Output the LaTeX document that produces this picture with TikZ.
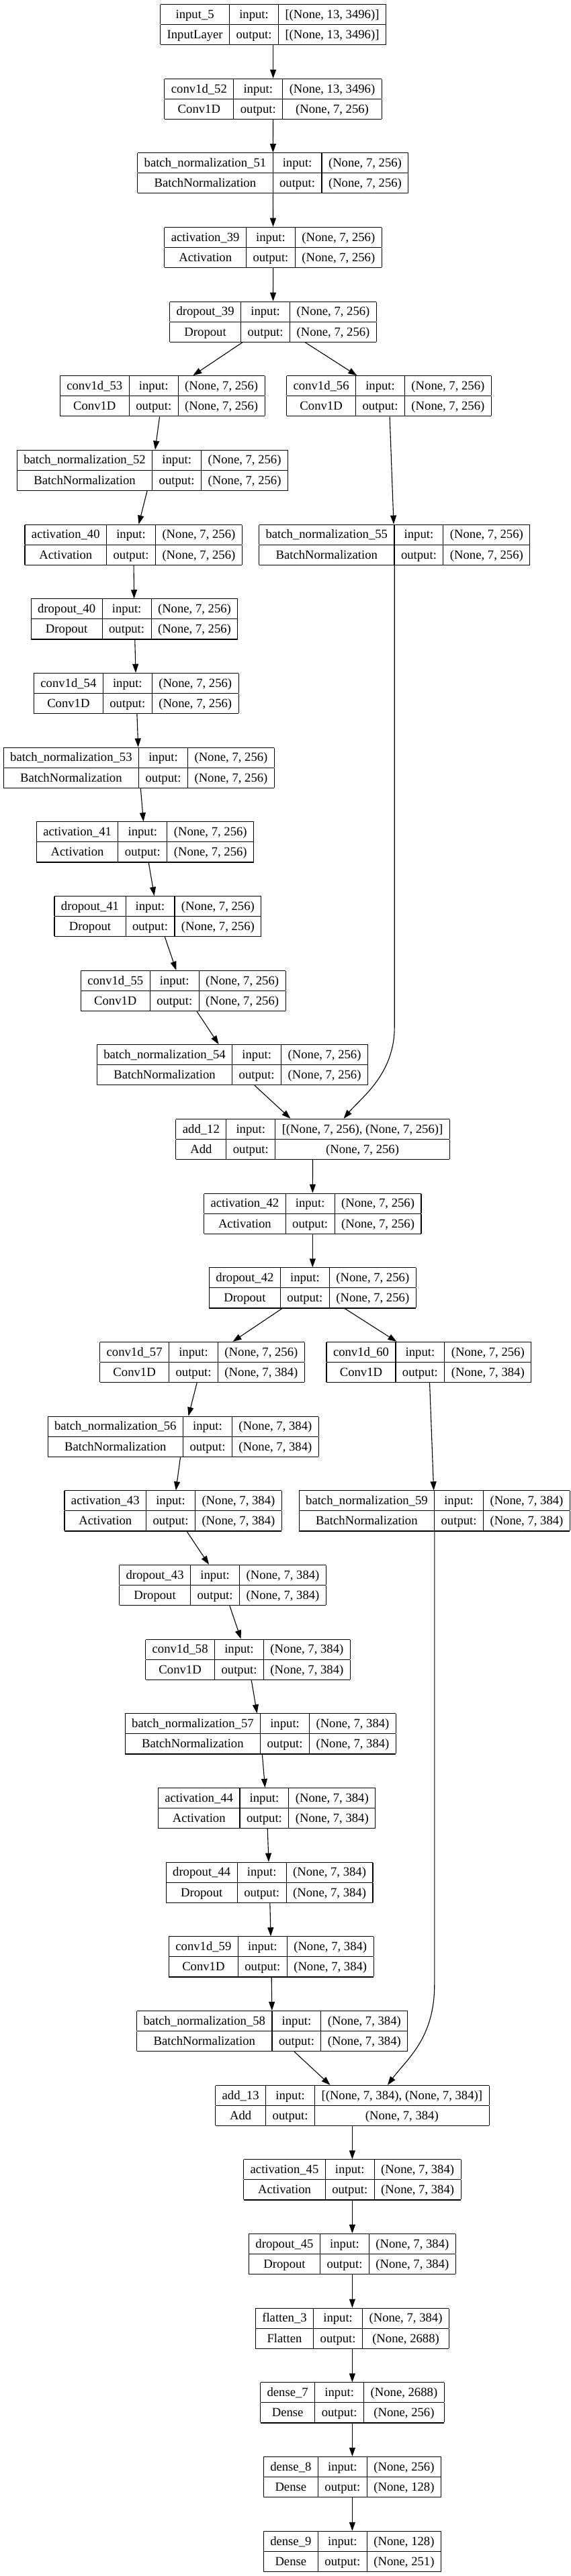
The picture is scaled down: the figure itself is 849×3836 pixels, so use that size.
\documentclass[tikz,border=0pt]{standalone}
\usepackage{fontspec}
\setmainfont{Liberation Serif}
\usetikzlibrary{arrows.meta}
\setlength{\tabcolsep}{10pt}
\setlength{\arrayrulewidth}{1.1pt}
\tikzset{
  % --- keras layer box (name/class | input/output | shapes) -------------
  kbox/.style  ={inner sep=0pt, outer sep=0pt,
                 font=\fontsize{18.67}{29}\selectfont},
  % --- arrows ------------------------------------------------------------
  arrow/.style ={-{Triangle[length=13pt,width=9pt]}, line width=1.1pt},
}
\newcommand{\kerasbox}[4]{%
  \begin{tabular}{|c|c|c|}\hline
    #1 & input: & #3\\\hline
    #2 & output: & #4\\\hline
  \end{tabular}}

\begin{document}
\begin{tikzpicture}[x=1pt, y=-1pt]

  \fill[white] (0,0) rectangle (849,3836);

  % ============================ stem ============================
  \node[kbox] (inp) at (406.6,36.3)
    {\kerasbox{input\_5}{InputLayer}{[(None, 13, 3496)]}{[(None, 13, 3496)]}};
  \node[kbox] (c52) at (406.6,147.3)
    {\kerasbox{conv1d\_52}{Conv1D}{(None, 13, 3496)}{(None, 7, 256)}};
  \node[kbox] (b51) at (406.3,257.8)
    {\kerasbox{batch\_normalization\_51}{BatchNormalization}{(None, 7, 256)}{(None, 7, 256)}};
  \node[kbox] (a39) at (406.6,368.3)
    {\kerasbox{activation\_39}{Activation}{(None, 7, 256)}{(None, 7, 256)}};
  \node[kbox] (d39) at (406.5,479.2)
    {\kerasbox{dropout\_39}{Dropout}{(None, 7, 256)}{(None, 7, 256)}};

  % ============================ block 1 (256) ============================
  \node[kbox] (c53) at (241.7,589.8)
    {\kerasbox{conv1d\_53}{Conv1D}{(None, 7, 256)}{(None, 7, 256)}};
  \node[kbox] (c56) at (579.0,589.8)
    {\kerasbox{conv1d\_56}{Conv1D}{(None, 7, 256)}{(None, 7, 256)}};
  \node[kbox] (b52) at (226.9,700.2)
    {\kerasbox{batch\_normalization\_52}{BatchNormalization}{(None, 7, 256)}{(None, 7, 256)}};
  \node[kbox] (a40) at (198.7,811.2)
    {\kerasbox{activation\_40}{Activation}{(None, 7, 256)}{(None, 7, 256)}};
  \node[kbox] (b55) at (587.2,811.2)
    {\kerasbox{batch\_normalization\_55}{BatchNormalization}{(None, 7, 256)}{(None, 7, 256)}};
  \node[kbox] (d40) at (200.0,921.9)
    {\kerasbox{dropout\_40}{Dropout}{(None, 7, 256)}{(None, 7, 256)}};
  \node[kbox] (c54) at (202.8,1032.4)
    {\kerasbox{conv1d\_54}{Conv1D}{(None, 7, 256)}{(None, 7, 256)}};
  \node[kbox] (b53) at (206.8,1143.2)
    {\kerasbox{batch\_normalization\_53}{BatchNormalization}{(None, 7, 256)}{(None, 7, 256)}};
  \node[kbox] (a41) at (216.0,1253.9)
    {\kerasbox{activation\_41}{Activation}{(None, 7, 256)}{(None, 7, 256)}};
  \node[kbox] (d41) at (234.9,1364.5)
    {\kerasbox{dropout\_41}{Dropout}{(None, 7, 256)}{(None, 7, 256)}};
  \node[kbox] (c55) at (272.7,1475.4)
    {\kerasbox{conv1d\_55}{Conv1D}{(None, 7, 256)}{(None, 7, 256)}};
  \node[kbox] (b54) at (345.9,1585.7)
    {\kerasbox{batch\_normalization\_54}{BatchNormalization}{(None, 7, 256)}{(None, 7, 256)}};
  \node[kbox] (add12) at (465.6,1696.3)
    {\kerasbox{add\_12}{Add}{[(None, 7, 256), (None, 7, 256)]}{(None, 7, 256)}};
  \node[kbox] (a42) at (465.3,1807.2)
    {\kerasbox{activation\_42}{Activation}{(None, 7, 256)}{(None, 7, 256)}};
  \node[kbox] (d42) at (465.3,1917.9)
    {\kerasbox{dropout\_42}{Dropout}{(None, 7, 256)}{(None, 7, 256)}};

  % ============================ block 2 (384) ============================
  \node[kbox] (c57) at (301.0,2028.5)
    {\kerasbox{conv1d\_57}{Conv1D}{(None, 7, 256)}{(None, 7, 384)}};
  \node[kbox] (c60) at (638.4,2028.5)
    {\kerasbox{conv1d\_60}{Conv1D}{(None, 7, 256)}{(None, 7, 384)}};
  \node[kbox] (b56) at (272.7,2139.2)
    {\kerasbox{batch\_normalization\_56}{BatchNormalization}{(None, 7, 384)}{(None, 7, 384)}};
  \node[kbox] (a43) at (257.7,2249.9)
    {\kerasbox{activation\_43}{Activation}{(None, 7, 384)}{(None, 7, 384)}};
  \node[kbox] (b59) at (646.8,2249.9)
    {\kerasbox{batch\_normalization\_59}{BatchNormalization}{(None, 7, 384)}{(None, 7, 384)}};
  \node[kbox] (d43) at (331.5,2360.4)
    {\kerasbox{dropout\_43}{Dropout}{(None, 7, 384)}{(None, 7, 384)}};
  \node[kbox] (c58) at (369.0,2471.2)
    {\kerasbox{conv1d\_58}{Conv1D}{(None, 7, 384)}{(None, 7, 384)}};
  \node[kbox] (b57) at (387.8,2581.9)
    {\kerasbox{batch\_normalization\_57}{BatchNormalization}{(None, 7, 384)}{(None, 7, 384)}};
  \node[kbox] (a44) at (397.1,2692.5)
    {\kerasbox{activation\_44}{Activation}{(None, 7, 384)}{(None, 7, 384)}};
  \node[kbox] (d44) at (401.1,2803.2)
    {\kerasbox{dropout\_44}{Dropout}{(None, 7, 384)}{(None, 7, 384)}};
  \node[kbox] (c59) at (403.8,2913.9)
    {\kerasbox{conv1d\_59}{Conv1D}{(None, 7, 384)}{(None, 7, 384)}};
  \node[kbox] (b58) at (405.2,3024.5)
    {\kerasbox{batch\_normalization\_58}{BatchNormalization}{(None, 7, 384)}{(None, 7, 384)}};
  \node[kbox] (add13) at (524.4,3135.5)
    {\kerasbox{add\_13}{Add}{[(None, 7, 384), (None, 7, 384)]}{(None, 7, 384)}};

  % ============================ head ============================
  \node[kbox] (a45) at (524.4,3245.9)
    {\kerasbox{activation\_45}{Activation}{(None, 7, 384)}{(None, 7, 384)}};
  \node[kbox] (d45) at (524.4,3356.3)
    {\kerasbox{dropout\_45}{Dropout}{(None, 7, 384)}{(None, 7, 384)}};
  \node[kbox] (fl3) at (524.4,3467.2)
    {\kerasbox{flatten\_3}{Flatten}{(None, 7, 384)}{(None, 2688)}};
  \node[kbox] (de7) at (524.4,3577.9)
    {\kerasbox{dense\_7}{Dense}{(None, 2688)}{(None, 256)}};
  \node[kbox] (de8) at (524.4,3688.4)
    {\kerasbox{dense\_8}{Dense}{(None, 256)}{(None, 128)}};
  \node[kbox] (de9) at (524.4,3799.4)
    {\kerasbox{dense\_9}{Dense}{(None, 128)}{(None, 251)}};

  % ============================ edges ============================
  \draw[arrow] (inp) -- (c52);
  \draw[arrow] (c52) -- (b51);
  \draw[arrow] (b51) -- (a39);
  \draw[arrow] (a39) -- (d39);
  \draw[arrow] (d39) -- (c53);
  \draw[arrow] (d39) -- (c56);
  \draw[arrow] (c53) -- (b52);
  \draw[arrow] (c56) -- (b55);
  \draw[arrow] (b52) -- (a40);
  \draw[arrow] (a40) -- (d40);
  \draw[arrow] (d40) -- (c54);
  \draw[arrow] (c54) -- (b53);
  \draw[arrow] (b53) -- (a41);
  \draw[arrow] (a41) -- (d41);
  \draw[arrow] (d41) -- (c55);
  \draw[arrow] (c55) -- (b54);
  \draw[arrow] (b54) -- (add12);
  % shortcut of block 1
  \coordinate (bend1) at (587.2,1530);
  \draw[arrow] (b55.south) -- (bend1) .. controls +(0,70) and +(25,-30) .. ([xshift=46pt]add12.north);
  \draw[arrow] (add12) -- (a42);
  \draw[arrow] (a42) -- (d42);
  \draw[arrow] (d42) -- (c57);
  \draw[arrow] (d42) -- (c60);
  \draw[arrow] (c57) -- (b56);
  \draw[arrow] (c60) -- (b59);
  \draw[arrow] (b56) -- (a43);
  \draw[arrow] (a43) -- (d43);
  \draw[arrow] (d43) -- (c58);
  \draw[arrow] (c58) -- (b57);
  \draw[arrow] (b57) -- (a44);
  \draw[arrow] (a44) -- (d44);
  \draw[arrow] (d44) -- (c59);
  \draw[arrow] (c59) -- (b58);
  \draw[arrow] (b58) -- (add13);
  % shortcut of block 2
  \coordinate (bend2) at (646.8,2955);
  \draw[arrow] (b59.south) -- (bend2) .. controls +(0,80) and +(30,-40) .. ([xshift=52.5pt]add13.north);
  \draw[arrow] (add13) -- (a45);
  \draw[arrow] (a45) -- (d45);
  \draw[arrow] (d45) -- (fl3);
  \draw[arrow] (fl3) -- (de7);
  \draw[arrow] (de7) -- (de8);
  \draw[arrow] (de8) -- (de9);

\end{tikzpicture}
\end{document}
